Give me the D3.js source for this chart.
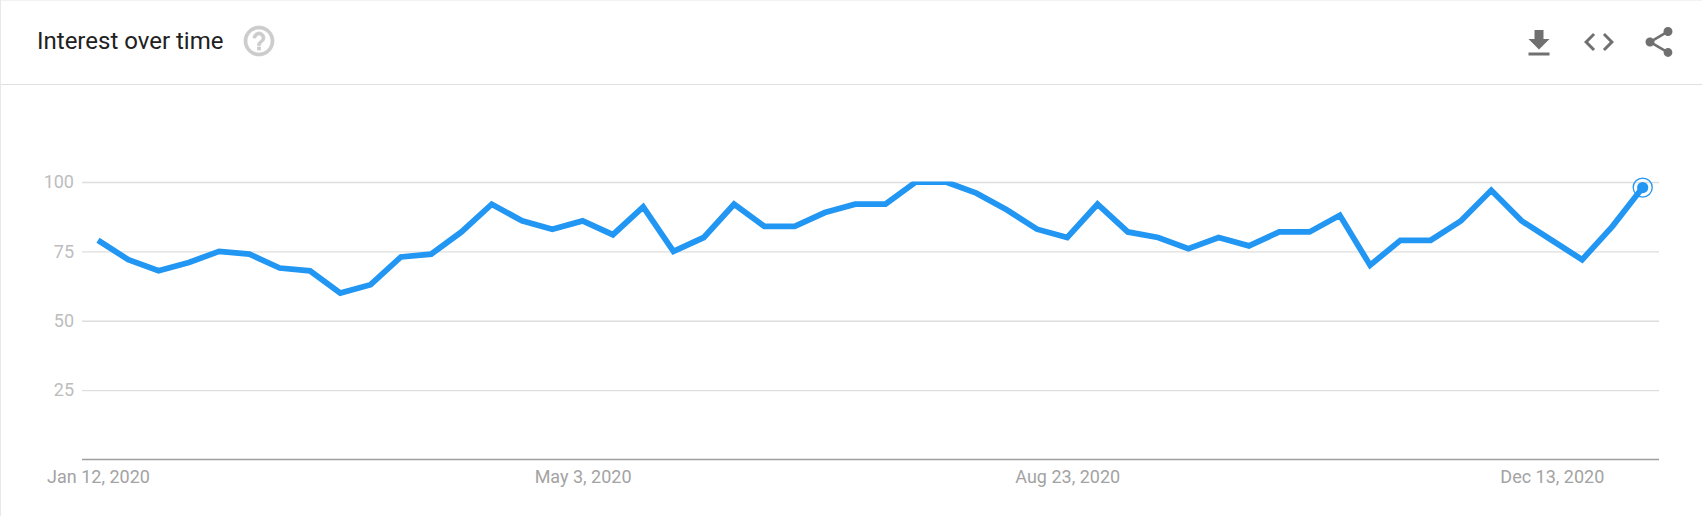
<!DOCTYPE html>
<html>
<head>
<meta charset="utf-8">
<style>
html,body{margin:0;padding:0;background:#fff;overflow:hidden}
svg{display:block}
text{font-family:Roboto,sans-serif}
</style>
<script src="https://cdn.jsdelivr.net/npm/d3@7/dist/d3.min.js"></script>
</head>
<body>
<svg id="chart" width="1702" height="516"></svg>
<script>
const title = "Interest over time";
const firstWeek = "2020-01-12";
const interest = [79,72,68,71,75,74,69,68,60,63,73,74,82,92,86,83,86,81,91,75,80,92,84,84,89,92,92,100,100,96,90,83,80,92,82,80,76,80,77,82,82,88,70,79,79,86,97,86,79,72,84,98];
const yTicks = [25,50,75,100];
const xTickDates = ["2020-01-12","2020-05-03","2020-08-23","2020-12-13"];

const parse = d3.utcParse("%Y-%m-%d");
const fmt = d3.utcFormat("%b %-d, %Y");
const weeks = interest.map((_, i) => d3.utcWeek.offset(parse(firstWeek), i));

const svg = d3.select("#chart");

// card frame
svg.append("rect").attr("x",0).attr("y",0).attr("width",1702).attr("height",1).attr("fill","#f2f2f2");
svg.append("rect").attr("x",0).attr("y",0).attr("width",1).attr("height",516).attr("fill","#e8e8e8");
svg.append("rect").attr("x",1).attr("y",84).attr("width",1701).attr("height",1).attr("fill","#e0e0e0");

// header
svg.append("text").attr("x",37).attr("y",49).attr("font-size",24).attr("fill","#212121").text(title);
const icon = (d, tx, ty, fill) => svg.append("path").attr("d", d).attr("fill", fill)
  .attr("transform", `translate(${tx},${ty}) scale(1.5)`);
icon("M11 18h2v-2h-2v2zm1-16C6.48 2 2 6.48 2 12s4.48 10 10 10 10-4.48 10-10S17.52 2 12 2zm0 18c-4.41 0-8-3.59-8-8s3.59-8 8-8 8 3.59 8 8-3.59 8-8 8zm0-14c-2.21 0-4 1.79-4 4h2c0-1.1.9-2 2-2s2 .9 2 2c0 2-3 1.75-3 5h2c0-2.25 3-2.5 3-5 0-2.21-1.79-4-4-4z", 241, 23, "#cccccc")
  .attr("stroke","#cccccc").attr("stroke-width",0.5);
icon("M19 9h-4V3H9v6H5l7 7 7-7zM5 18v2h14v-2H5z", 1521, 25.5, "#707070");
icon("M9.4 16.6L4.8 12l4.6-4.6L8 6l-6 6 6 6 1.4-1.4zm5.2 0l4.6-4.6-4.6-4.6L16 6l6 6-6 6-1.4-1.4z", 1581, 24, "#707070");
icon("M18 16.08c-.76 0-1.44.3-1.96.77L8.91 12.7c.05-.23.09-.46.09-.7s-.04-.47-.09-.7l7.05-4.11c.54.5 1.25.81 2.04.81 1.66 0 3-1.34 3-3s-1.34-3-3-3-3 1.34-3 3c0 .24.04.47.09.7L8.04 9.81C7.5 9.31 6.79 9 6 9c-1.66 0-3 1.34-3 3s1.34 3 3 3c.79 0 1.5-.31 2.04-.81l7.12 4.16c-.05.21-.08.43-.08.65 0 1.61 1.31 2.92 2.92 2.92 1.61 0 2.92-1.31 2.92-2.92s-1.31-2.92-2.92-2.92z", 1641, 24, "#707070");

// scales
const plot = {left:82, right:1659};
const x = d3.scaleUtc().domain([weeks[0], weeks[weeks.length-1]]).range([98, 1642.7]);
const y = d3.scaleLinear().domain([0,100]).range([459.5, 182]);

// y axis + grid
const yAxis = svg.append("g").attr("transform",`translate(${plot.left},0)`)
  .call(d3.axisLeft(y).tickValues(yTicks).tickSize(-(plot.right-plot.left)).tickPadding(8));
yAxis.select(".domain").remove();
yAxis.selectAll(".tick line").attr("stroke","#dedede").attr("stroke-width",1.4);
yAxis.selectAll(".tick text").attr("fill","#bdbdbd").attr("font-size",18).style("font-family","Roboto,sans-serif");

// baseline & x axis
const xAxis = svg.append("g").attr("transform",`translate(0,${y(0)})`)
  .call(d3.axisBottom(x).tickValues(xTickDates.map(parse)).tickFormat(fmt).tickSize(0).tickPadding(11));
xAxis.select(".domain").remove();
xAxis.selectAll(".tick text").attr("fill","#a3a3a3").attr("font-size",18).style("font-family","Roboto,sans-serif");
svg.append("line").attr("x1",plot.left).attr("x2",plot.right).attr("y1",y(0)).attr("y2",y(0))
  .attr("stroke","#9e9e9e").attr("stroke-width",1.5);

// series, clipped at the top of the plot
svg.append("clipPath").attr("id","plotClip").append("rect")
  .attr("x",plot.left).attr("width",plot.right-plot.left)
  .attr("y",y(100)-0.5).attr("height",y(0)-y(100)+0.5);
const line = d3.line().x((d,i)=>x(weeks[i])).y(d=>y(d)).curve(d3.curveLinear);
svg.append("path").datum(interest).attr("d",line).attr("fill","none")
  .attr("clip-path","url(#plotClip)")
  .attr("stroke","#2196f3").attr("stroke-width",5.8).attr("stroke-linejoin","miter");

// last point marker
const n = interest.length-1;
svg.append("circle").attr("cx",x(weeks[n])).attr("cy",y(interest[n])).attr("r",5.6).attr("fill","#2196f3");
svg.append("circle").attr("cx",x(weeks[n])).attr("cy",y(interest[n])).attr("r",9.5).attr("fill","none").attr("stroke","#2196f3").attr("stroke-width",1.3);
</script>
</body>
</html>
